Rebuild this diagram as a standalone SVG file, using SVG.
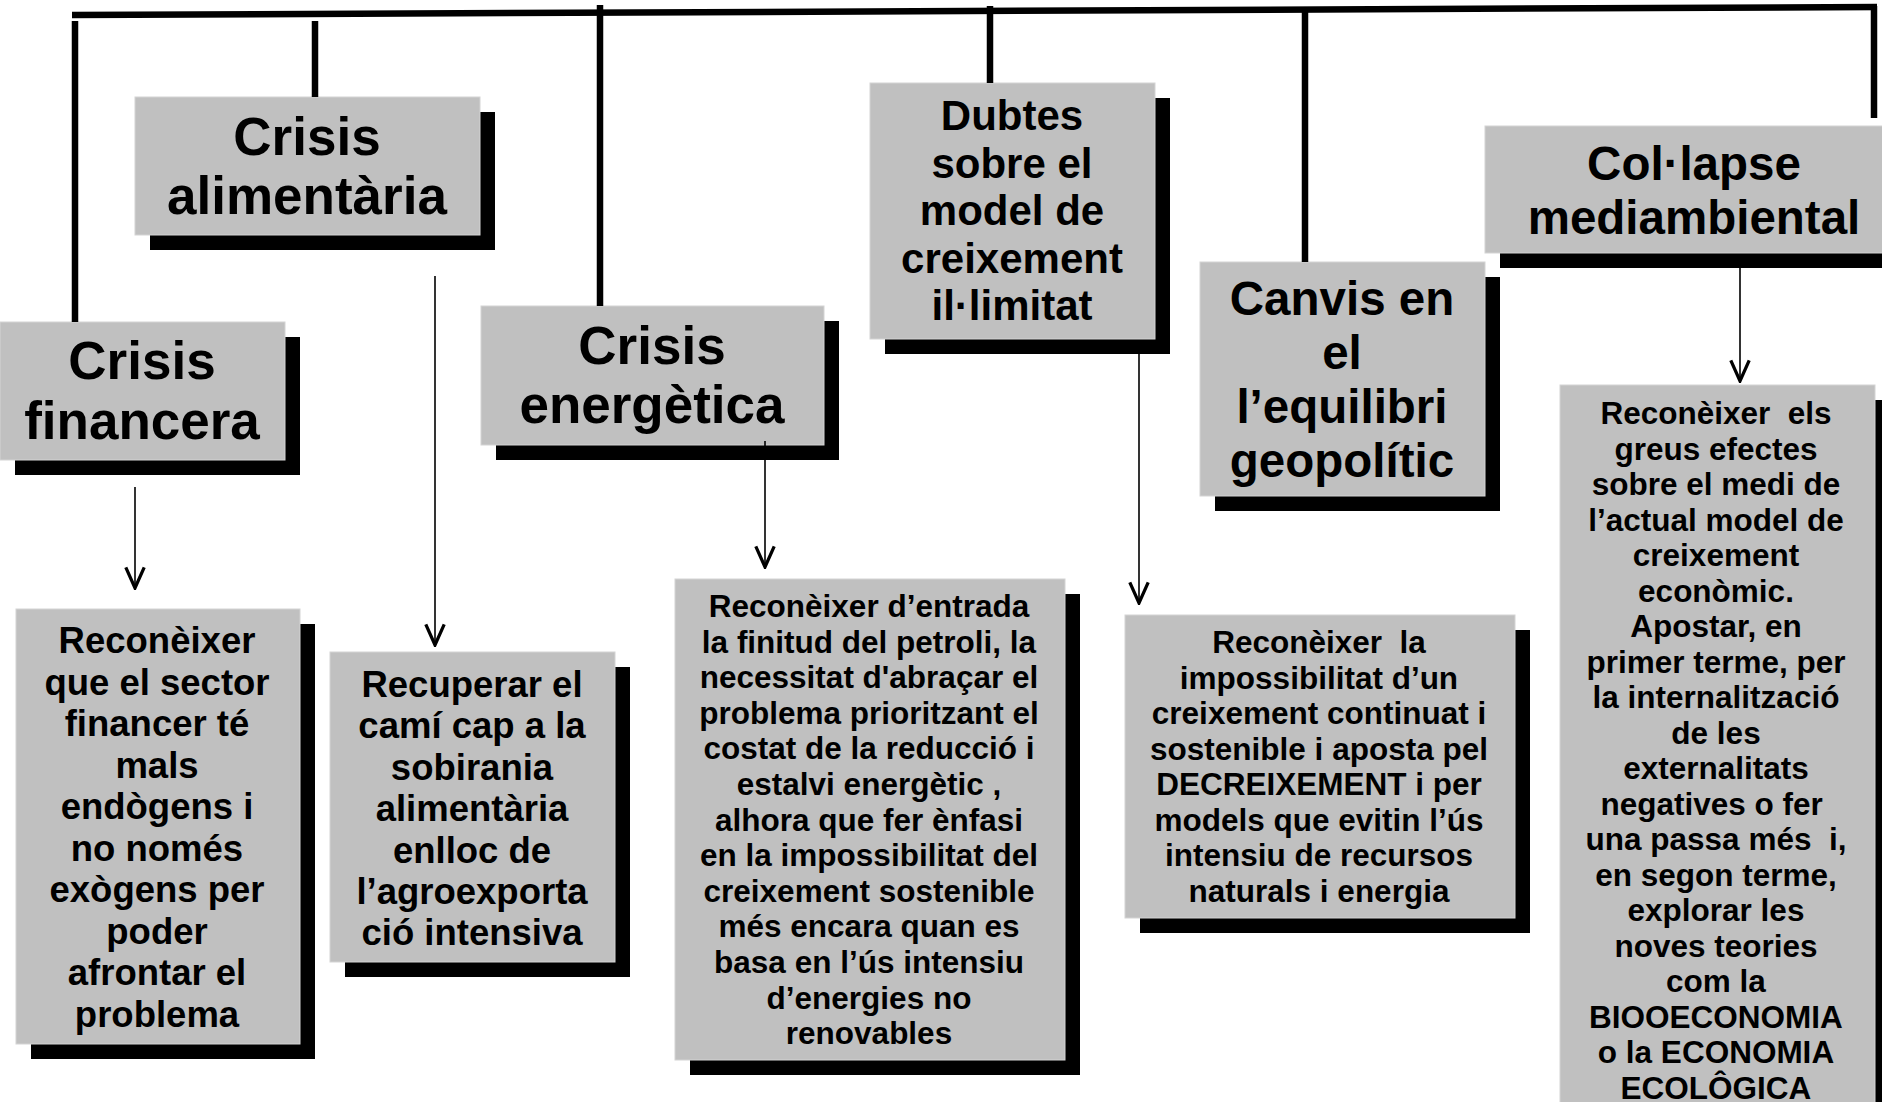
<svg xmlns="http://www.w3.org/2000/svg" width="1882" height="1102" viewBox="0 0 1882 1102">
<style>
.box{fill:#c0c0c0;stroke:#d4d4d4;stroke-width:1}
.sh{fill:#000}
.t{font-family:"Liberation Sans",Arial,sans-serif;font-weight:bold;fill:#000;text-anchor:middle;white-space:pre}
.h53{font-size:53px}
.h47{font-size:47.5px}
.h42{font-size:42px}
.b36{font-size:36.5px}
.b31{font-size:31.5px}
.bar{stroke:#000;stroke-width:6.5;fill:none}
.arr{stroke:#000;stroke-width:1.6;fill:none;marker-end:url(#v)}
</style>
<defs>
<marker id="v" markerUnits="userSpaceOnUse" markerWidth="26" markerHeight="26" viewBox="-22 -12 24 24" refX="0" refY="0" orient="auto">
<path d="M-19,-8.5 L0,0 L-19,8.5" fill="none" stroke="#000" stroke-width="3"/>
</marker>
</defs>
<rect width="1882" height="1102" fill="#fff"/>

<g id="node-financera">
<rect class="sh" x="15" y="337" width="285" height="138"/>
<rect class="box" x="0" y="322" width="285" height="138"/>
<text class="t h53" x="142"><tspan x="142" y="379">Crisis</tspan><tspan x="142" y="439">financera</tspan></text>
</g>
<g id="node-alimentaria">
<rect class="sh" x="150" y="112" width="345" height="138"/>
<rect class="box" x="135" y="97" width="345" height="138"/>
<text class="t h53"><tspan x="307" y="155">Crisis</tspan><tspan x="307" y="214">alimentària</tspan></text>
</g>
<g id="node-energetica">
<rect class="sh" x="496" y="321" width="343" height="139"/>
<rect class="box" x="481" y="306" width="343" height="139"/>
<text class="t h53"><tspan x="652" y="364">Crisis</tspan><tspan x="652" y="423">energètica</tspan></text>
</g>
<g id="node-dubtes">
<rect class="sh" x="885" y="98" width="285" height="256"/>
<rect class="box" x="870" y="83" width="285" height="256"/>
<text class="t h42"><tspan x="1012" y="130">Dubtes</tspan><tspan x="1012" y="177.5">sobre el</tspan><tspan x="1012" y="225">model de</tspan><tspan x="1012" y="272.5">creixement</tspan><tspan x="1012" y="320">il·limitat</tspan></text>
</g>
<g id="node-canvis">
<rect class="sh" x="1215" y="277" width="285" height="234"/>
<rect class="box" x="1200" y="262" width="285" height="234"/>
<text class="t h47"><tspan x="1342" y="315">Canvis en</tspan><tspan x="1342" y="369">el</tspan><tspan x="1342" y="423">l’equilibri</tspan><tspan x="1342" y="477">geopolític</tspan></text>
</g>
<g id="node-collapse">
<rect class="sh" x="1500" y="141" width="400" height="127"/>
<rect class="box" x="1485" y="126" width="400" height="127"/>
<text class="t h47"><tspan x="1694" y="180">Col·lapse</tspan><tspan x="1694" y="234">mediambiental</tspan></text>
</g>

<g id="node-r1">
<rect class="sh" x="31" y="624" width="284" height="435"/>
<rect class="box" x="16" y="609" width="284" height="435"/>
<text class="t b36"><tspan x="157" y="653">Reconèixer</tspan><tspan x="157" y="694.5">que el sector</tspan><tspan x="157" y="736">financer té</tspan><tspan x="157" y="777.5">mals</tspan><tspan x="157" y="819">endògens i</tspan><tspan x="157" y="860.5">no només</tspan><tspan x="157" y="902">exògens per</tspan><tspan x="157" y="943.5">poder</tspan><tspan x="157" y="985">afrontar el</tspan><tspan x="157" y="1026.5">problema</tspan></text>
</g>
<g id="node-r2">
<rect class="sh" x="345" y="667" width="285" height="310"/>
<rect class="box" x="330" y="652" width="285" height="310"/>
<text class="t b36"><tspan x="472" y="697">Recuperar el</tspan><tspan x="472" y="738.4">camí cap a la</tspan><tspan x="472" y="779.8">sobirania</tspan><tspan x="472" y="821.2">alimentària</tspan><tspan x="472" y="862.6">enlloc de</tspan><tspan x="472" y="904">l’agroexporta</tspan><tspan x="472" y="945.4">ció intensiva</tspan></text>
</g>
<g id="node-r3">
<rect class="sh" x="690" y="594" width="390" height="481"/>
<rect class="box" x="675" y="579" width="390" height="481"/>
<text class="t b31"><tspan x="869" y="617">Reconèixer d’entrada</tspan><tspan x="869" y="652.6">la finitud del petroli, la</tspan><tspan x="869" y="688.2">necessitat d'abraçar el</tspan><tspan x="869" y="723.8">problema prioritzant el</tspan><tspan x="869" y="759.4">costat de la reducció i</tspan><tspan x="869" y="795">estalvi energètic ,</tspan><tspan x="869" y="830.6">alhora que fer ènfasi</tspan><tspan x="869" y="866.2">en la impossibilitat del</tspan><tspan x="869" y="901.8">creixement sostenible</tspan><tspan x="869" y="937.4">més encara quan es</tspan><tspan x="869" y="973">basa en l’ús intensiu</tspan><tspan x="869" y="1008.6">d’energies no</tspan><tspan x="869" y="1044.2">renovables</tspan></text>
</g>
<g id="node-r4">
<rect class="sh" x="1140" y="630" width="390" height="303"/>
<rect class="box" x="1125" y="615" width="390" height="303"/>
<text class="t b31"><tspan x="1319" y="653">Reconèixer  la</tspan><tspan x="1319" y="688.5">impossibilitat d’un</tspan><tspan x="1319" y="724">creixement continuat i</tspan><tspan x="1319" y="759.5">sostenible i aposta pel</tspan><tspan x="1319" y="795">DECREIXEMENT i per</tspan><tspan x="1319" y="830.5">models que evitin l’ús</tspan><tspan x="1319" y="866">intensiu de recursos</tspan><tspan x="1319" y="901.5">naturals i energia</tspan></text>
</g>
<g id="node-r5">
<rect class="sh" x="1575" y="400" width="320" height="720"/>
<rect class="box" x="1560" y="385" width="315" height="730"/>
<text class="t b31"><tspan x="1716" y="424">Reconèixer  els</tspan><tspan x="1716" y="459.5">greus efectes</tspan><tspan x="1716" y="495">sobre el medi de</tspan><tspan x="1716" y="530.5">l’actual model de</tspan><tspan x="1716" y="566">creixement</tspan><tspan x="1716" y="601.5">econòmic.</tspan><tspan x="1716" y="637">Apostar, en</tspan><tspan x="1716" y="672.5">primer terme, per</tspan><tspan x="1716" y="708">la internalització</tspan><tspan x="1716" y="743.5">de les</tspan><tspan x="1716" y="779">externalitats</tspan><tspan x="1716" y="814.5">negatives o fer </tspan><tspan x="1716" y="850">una passa més  i,</tspan><tspan x="1716" y="885.5">en segon terme,</tspan><tspan x="1716" y="921">explorar les</tspan><tspan x="1716" y="956.5">noves teories</tspan><tspan x="1716" y="992">com la</tspan><tspan x="1716" y="1027.5">BIOOECONOMIA</tspan><tspan x="1716" y="1063">o la ECONOMIA</tspan><tspan x="1716" y="1098.5">ECOLÔGICA</tspan></text>
</g>

<g id="connectors">
<path class="bar" d="M72,15 L1877,7"/>
<path class="bar" d="M1874,6 L1874,118"/>
<path class="bar" d="M75,21 L75,322"/>
<path class="bar" d="M315,21 L315,97"/>
<path class="bar" d="M600,5 L600,306"/>
<path class="bar" d="M990,6 L990,83"/>
<path class="bar" d="M1305,12 L1305,262"/>
<path class="arr" d="M135,487 L135,588"/>
<path class="arr" d="M435,276 L435,645"/>
<path class="arr" d="M765,441 L765,567"/>
<path class="arr" d="M1139,354 L1139,603"/>
<path class="arr" d="M1740,268 L1740,381"/>
</g>
</svg>
